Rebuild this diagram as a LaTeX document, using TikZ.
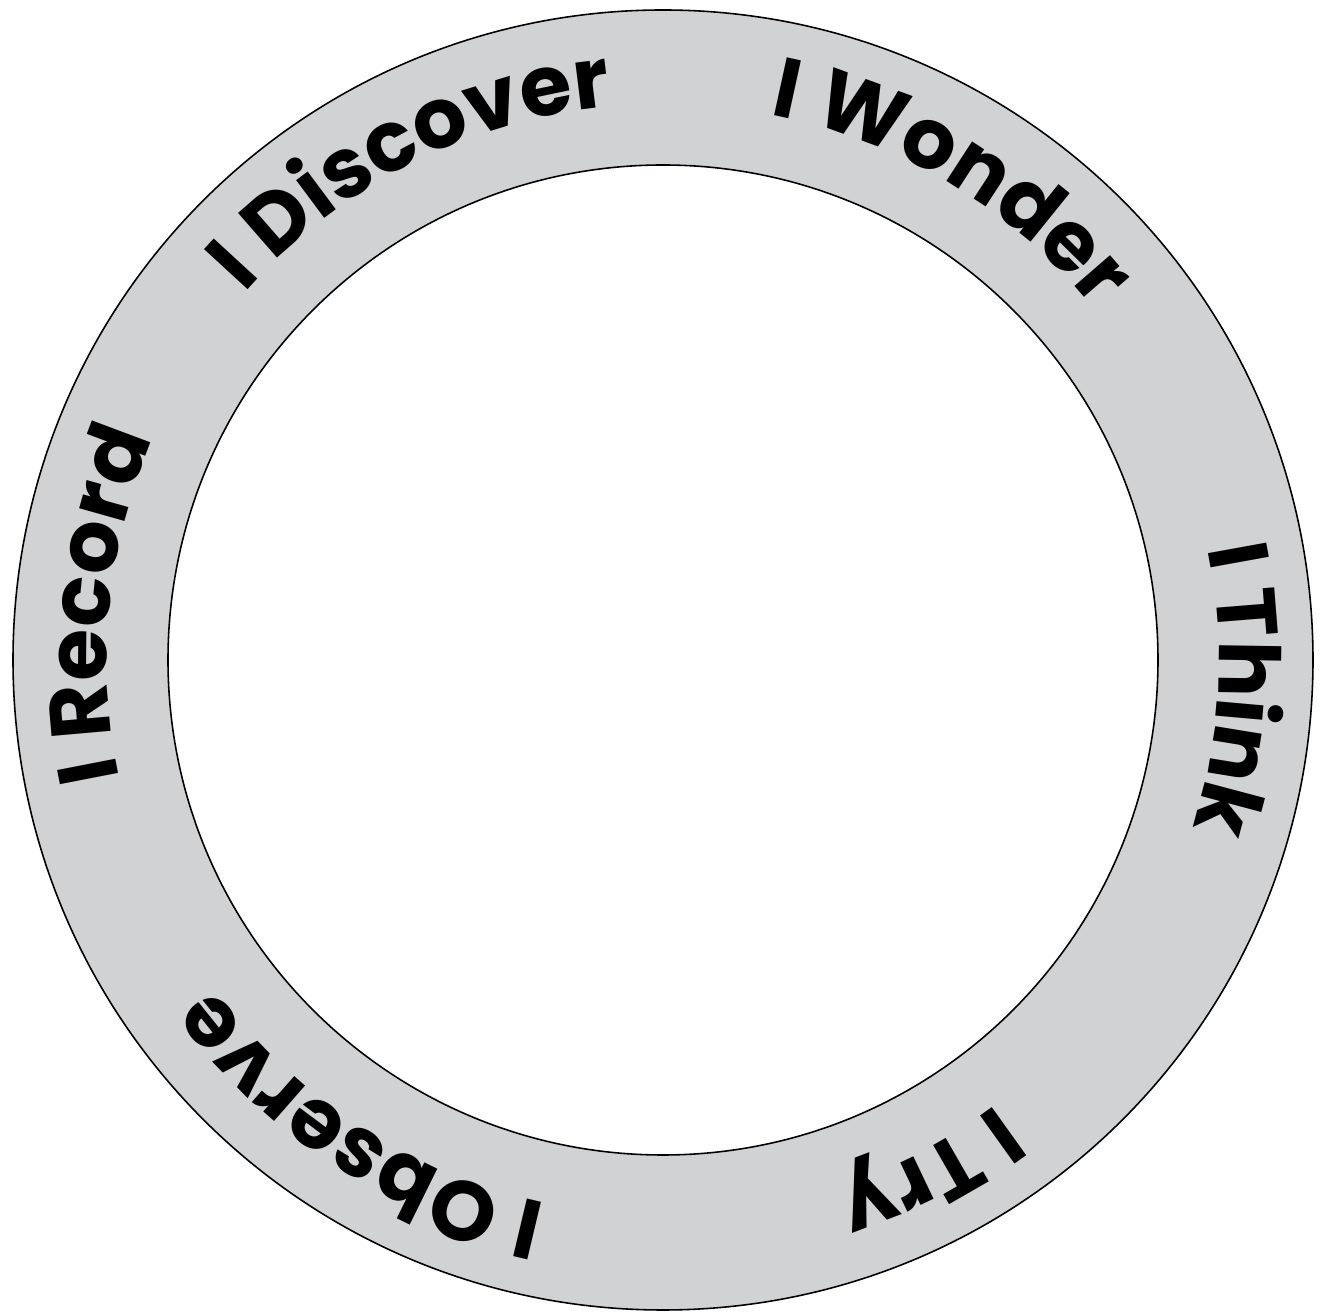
\documentclass[tikz,border=0pt]{standalone}
\usepackage{fontspec}
\newfontfamily\wordfont{Poppins}
\usetikzlibrary{calc,decorations.text}
\definecolor{ringgray}{HTML}{D1D2D4}
\tikzset{
  ringword/.style={decorate, decoration={text along path, text align=center,
    text={|\wordfont\bfseries\fontsize{24}{24}\selectfont|#1}}}
}
\begin{document}
\begin{tikzpicture}[line width=0.45pt]
  \useasboundingbox (0,0) rectangle (13.24,13.13);
  % centre of the ring
  \coordinate (o) at (6.63,6.53);
  % grey band between the two circles
  \fill[ringgray, even odd rule] (o) circle[radius=6.50] (o) circle[radius=4.95];
  \draw (o) circle[radius=6.50];
  \draw (o) circle[radius=4.95];
  % words on the band, read clockwise
  \path[ringword={I Discover}] ($(o)+(157:5.56)$) arc[start angle=157, end angle=77, radius=5.56];
  \path[ringword={I Wonder}] ($(o)+(99:5.56)$) arc[start angle=99, end angle=19, radius=5.56];
  \path[ringword={I Think}] ($(o)+(37:5.56)$) arc[start angle=37, end angle=-43, radius=5.56];
  \path[ringword={I Try}] ($(o)+(-22.5:5.56)$) arc[start angle=-22.5, end angle=-102.5, radius=5.56];
  \path[ringword={I Observe}] ($(o)+(-83:5.56)$) arc[start angle=-83, end angle=-163, radius=5.56];
  \path[ringword={I Record}] ($(o)+(214.4:5.56)$) arc[start angle=214.4, end angle=134.4, radius=5.56];
\end{tikzpicture}
\end{document}
